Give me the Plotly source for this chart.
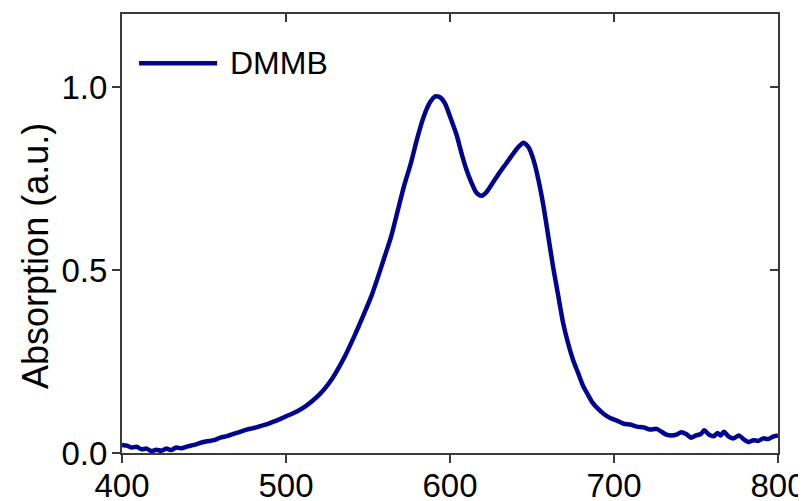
import plotly.graph_objects as go

wavelength = [400, 403, 406, 409, 412, 415, 418, 421, 424, 427, 430, 433, 436, 440, 444, 448,
              452, 456, 460, 464, 468, 472, 476, 480, 484, 488, 492, 496, 500, 504, 508, 512,
              516, 520, 524, 528, 532, 536, 540, 544, 548, 552, 556, 560, 564, 568, 572, 576,
              580, 584, 588, 591, 594, 597, 600, 604, 607, 610, 613, 616, 619, 622, 626, 630,
              634, 638, 642, 645, 648, 651, 654, 657, 660, 663, 666, 669, 672, 675, 678, 681,
              684, 687, 690, 694, 698, 702, 706, 710, 714, 718, 722, 726, 729, 732, 735, 738,
              741, 744, 747, 750, 753, 755, 758, 761, 763, 765, 767, 770, 773, 776, 779, 782,
              785, 788, 791, 794, 797, 800]
absorption = [0.022, 0.020, 0.015, 0.017, 0.010, 0.012, 0.005, 0.009, 0.006, 0.012, 0.008, 0.015,
              0.013, 0.018, 0.022, 0.028, 0.032, 0.035, 0.042, 0.046, 0.052, 0.058, 0.064, 0.068,
              0.073, 0.078, 0.085, 0.092, 0.100, 0.108, 0.117, 0.128, 0.142, 0.158, 0.178, 0.202,
              0.232, 0.265, 0.303, 0.343, 0.385, 0.428, 0.480, 0.535, 0.590, 0.660, 0.730, 0.790,
              0.860, 0.920, 0.960, 0.975, 0.972, 0.955, 0.920, 0.870, 0.820, 0.775, 0.740, 0.712,
              0.703, 0.712, 0.738, 0.765, 0.790, 0.815, 0.838, 0.848, 0.835, 0.800, 0.745, 0.675,
              0.590, 0.505, 0.430, 0.355, 0.300, 0.255, 0.220, 0.185, 0.160, 0.137, 0.122, 0.106,
              0.095, 0.088, 0.080, 0.078, 0.072, 0.070, 0.064, 0.066, 0.058, 0.050, 0.048, 0.050,
              0.057, 0.052, 0.042, 0.048, 0.052, 0.062, 0.050, 0.046, 0.055, 0.048, 0.058, 0.045,
              0.040, 0.048, 0.038, 0.030, 0.035, 0.033, 0.040, 0.038, 0.045, 0.048]

series_name = "DMMB"
x_ticks = [400, 500, 600, 700, 800]
y_ticks = [0.0, 0.5, 1.0]
y_tick_labels = ["0.0", "0.5", "1.0"]
y_title = "Absorption (a.u.)"

LINE_COLOR = "#00058f"
AXIS_COLOR = "#3a3a3a"
FONT = "Liberation Sans, Arial, sans-serif"

fig = go.Figure()
fig.add_trace(go.Scatter(x=wavelength, y=absorption, mode="lines", name=series_name,
                         line=dict(color=LINE_COLOR, width=4.5, shape="spline", smoothing=0.6),
                         showlegend=False))
# invisible trace to activate the overlay axes (top/right inward ticks)
fig.add_trace(go.Scatter(x=[wavelength[0]], y=[absorption[0]], xaxis="x2", yaxis="y2",
                         mode="markers", marker=dict(opacity=0), showlegend=False, hoverinfo="skip"))

common = dict(showgrid=False, zeroline=False, showline=True, linecolor=AXIS_COLOR, linewidth=2,
              tickcolor=AXIS_COLOR, tickwidth=2, ticklen=8, automargin=False)

# page body has an 8px default margin, so the figure is sized to fit the 806x501 window
fig.update_layout(
    width=798, height=493,
    margin=dict(l=114, r=28, t=6, b=48),
    paper_bgcolor="white", plot_bgcolor="white",
    font=dict(family=FONT, color="black", size=33),
    xaxis=dict(range=[400, 800], tickvals=x_ticks, ticks="outside",
               tickfont=dict(size=33), ticklabelstandoff=-6, ticklabeloverflow="allow", **common),
    yaxis=dict(range=[0, 1.2], tickvals=y_ticks, ticktext=y_tick_labels, ticks="outside",
               tickfont=dict(size=33), ticklabelstandoff=-2, ticklabeloverflow="allow", **common),
    xaxis2=dict(range=[400, 800], overlaying="x", side="top", tickvals=x_ticks, ticks="inside",
                showticklabels=False, **common),
    yaxis2=dict(range=[0, 1.2], overlaying="y", side="right", tickvals=y_ticks, ticks="inside",
                showticklabels=False, **common),
    showlegend=False,
)

# legend sample (manual, to match long line sample)
fig.add_shape(type="line", xref="paper", yref="paper", x0=0.026, x1=0.145, y0=0.888, y1=0.888,
              line=dict(color=LINE_COLOR, width=4.5))
fig.add_annotation(text=series_name, xref="paper", yref="paper", x=0.1616, y=0.888,
                   xanchor="left", yanchor="middle", showarrow=False,
                   font=dict(size=32, color="black", family=FONT))

# y axis title
fig.add_annotation(text=y_title, xref="paper", yref="paper", x=-0.131, y=0.449,
                   xanchor="center", yanchor="middle", textangle=-90, showarrow=False,
                   font=dict(size=36, color="black", family=FONT))

fig.write_html("out.html")
